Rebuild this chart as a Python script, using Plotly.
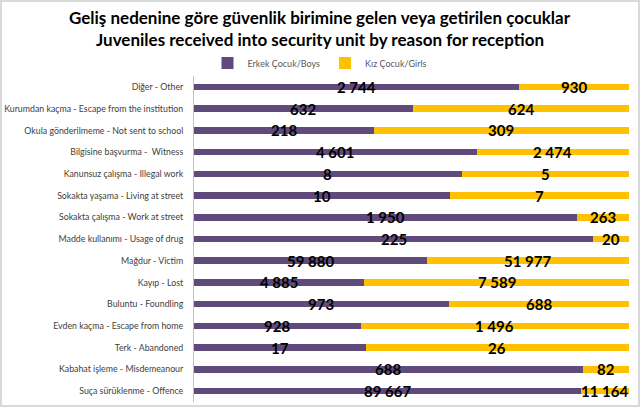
import plotly.graph_objects as go

categories = [
    "Diğer - Other",
    "Kurumdan kaçma - Escape from the institution",
    "Okula gönderilmeme - Not sent to school",
    "Bilgisine başvurma -  Witness",
    "Kanunsuz çalışma - Illegal work",
    "Sokakta yaşama - Living at street",
    "Sokakta çalışma - Work at street",
    "Madde kullanımı - Usage of drug",
    "Mağdur - Victim",
    "Kayıp - Lost",
    "Buluntu - Foundling",
    "Evden kaçma - Escape from home",
    "Terk - Abandoned",
    "Kabahat işleme - Misdemeanour",
    "Suça sürüklenme - Offence",
]
boys = [2744, 632, 218, 4601, 8, 10, 1950, 225, 59880, 4885, 973, 928, 17, 688, 89667]
girls = [930, 624, 309, 2474, 5, 7, 263, 20, 51977, 7589, 688, 1496, 26, 82, 11164]
series_names = ["Erkek Çocuk/Boys", "Kız Çocuk/Girls"]
title_lines = ["Geliş nedenine göre güvenlik birimine gelen veya getirilen çocuklar",
               "Juveniles received into security unit by reason for reception"]


def fmt(v):
    return f"{v:,}".replace(",", " ")


W, H = 640, 407
ML, MR, MT, MB = 194, 11, 76, 5
pw = W - ML - MR
ph = H - MT - MB

fig = go.Figure()
for name, vals, col in [(series_names[0], boys, "#604A7B"), (series_names[1], girls, "#FFC000")]:
    fig.add_trace(go.Bar(
        y=categories, x=vals, name=name, orientation="h",
        marker=dict(color=col, line=dict(width=0)),
        width=0.3,
    ))

# value labels, centred in each segment (positions from the data, percent scale)
for cat, b, g in zip(categories, boys, girls):
    tot = b + g
    for v, xc in [(b, b / tot * 50), (g, (b + g / 2) / tot * 100)]:
        fig.add_annotation(x=xc, y=cat, xref="x", yref="y", text="<b>" + fmt(v) + "</b>",
                           showarrow=False, xanchor="center", yanchor="middle",
                           font=dict(family="Lato", size=15, color="#000000"))

# title as annotations
for i, line in enumerate(title_lines):
    fig.add_annotation(x=0.5, xref="paper", y=1 + (MT - (18 + 22 * i)) / ph, yref="paper",
                       xanchor="center", yanchor="middle", showarrow=False,
                       text="<b>" + line + "</b>",
                       font=dict(family="Lato", size=17, color="#000000"))
# move first title line relative to plot width centre of figure
fig.layout.annotations[-1].x = (W / 2 - ML) / pw
fig.layout.annotations[-2].x = (W / 2 - ML) / pw

fig.add_shape(type="rect", xref="paper", yref="paper",
              x0=-(ML - 1) / pw, x1=1 + (MR - 1) / pw,
              y0=-(MB - 1) / ph, y1=1 + (MT - 1) / ph,
              line=dict(color="#D9D9D9", width=2), layer="below")

fig.update_layout(
    width=W, height=H,
    margin=dict(l=ML, r=MR, t=MT, b=MB),
    barmode="stack", barnorm="percent",
    paper_bgcolor="white", plot_bgcolor="white",
    legend=dict(orientation="h", x=(W / 2 - ML) / pw, xanchor="center", y=1 + 13 / ph,
                yanchor="middle",
                font=dict(family="Lato", size=9, color="#595959"),
                itemwidth=30, traceorder="normal"),
    showlegend=True,
    xaxis=dict(range=[0, 100], showgrid=False, zeroline=False, showticklabels=False,
               fixedrange=True),
    yaxis=dict(autorange="reversed", showline=True, linecolor="#BFBFBF", linewidth=1,
               ticks="", ticklabelstandoff=8, automargin=False,
               tickfont=dict(family="Lato", size=8.8, color="#404040")),
)
fig.write_html("out.html")
